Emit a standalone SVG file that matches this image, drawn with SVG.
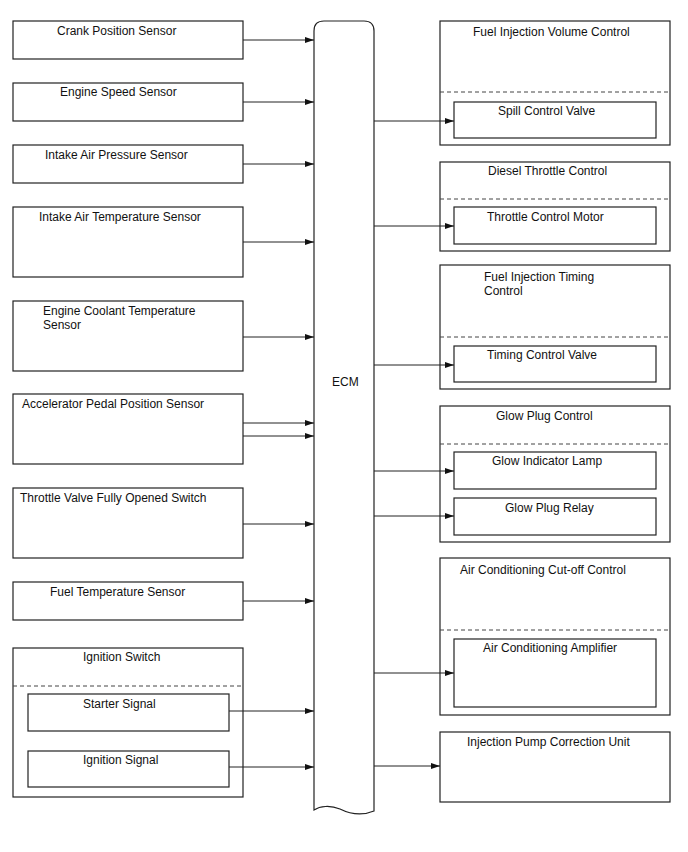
<svg xmlns="http://www.w3.org/2000/svg" width="688" height="852" viewBox="0 0 688 852">
<style>
.b{fill:#fff;stroke:#222;stroke-width:1.2}
.d{stroke:#444;stroke-width:1;stroke-dasharray:4 3}
.c{stroke:#222;stroke-width:1;fill:none;marker-end:url(#ah)}
text{font-family:"Liberation Sans",Arial,sans-serif;font-size:12px;fill:#111}
</style>
<defs>
<marker id="ah" markerWidth="9" markerHeight="6" refX="9" refY="3" orient="auto" markerUnits="userSpaceOnUse">
<path d="M0,0 L9,3 L0,6 Z" fill="#111"/>
</marker>
</defs>
<rect width="688" height="852" fill="#fff"/>
<g id="crank"><rect class="b" x="13" y="21" width="230" height="38"/><text x="57" y="35">Crank Position Sensor</text></g>
<g id="engspeed"><rect class="b" x="13" y="83" width="230" height="38"/><text x="60" y="96">Engine Speed Sensor</text></g>
<g id="iap"><rect class="b" x="13" y="145" width="230" height="38"/><text x="45" y="159">Intake Air Pressure Sensor</text></g>
<g id="iat"><rect class="b" x="13" y="207" width="230" height="70"/><text x="39" y="221">Intake Air Temperature Sensor</text></g>
<g id="ect"><rect class="b" x="13" y="301" width="230" height="70"/><text x="43" y="315">Engine Coolant Temperature</text><text x="43" y="329">Sensor</text></g>
<g id="app"><rect class="b" x="13" y="394" width="230" height="70"/><text x="22" y="408">Accelerator Pedal Position Sensor</text></g>
<g id="tvfo"><rect class="b" x="13" y="488" width="230" height="70"/><text x="20" y="502">Throttle Valve Fully Opened Switch</text></g>
<g id="fts"><rect class="b" x="13" y="582" width="230" height="38"/><text x="50" y="596">Fuel Temperature Sensor</text></g>
<g id="ign"><rect class="b" x="13" y="648" width="230" height="149"/><text x="83" y="661">Ignition Switch</text><line class="d" x1="13" y1="686" x2="243" y2="686"/>
<g id="starter"><rect class="b" x="28" y="694" width="201" height="37"/><text x="83" y="708">Starter Signal</text></g>
<g id="ignsig"><rect class="b" x="28" y="751" width="201" height="36"/><text x="83" y="764">Ignition Signal</text></g></g>
<g id="ecm"><path class="b" d="M314,810 L314,31 Q314,21 324,21 L364,21 Q374,21 374,31 L374,811 C362,816 350,814 340,809 C330,805 320,806 314,810 Z"/><text x="332" y="386">ECM</text></g>
<g id="fivc"><rect class="b" x="440" y="21" width="230" height="124"/><text x="473" y="36">Fuel Injection Volume Control</text><line class="d" x1="440" y1="92" x2="670" y2="92"/>
<g id="scv"><rect class="b" x="454" y="102" width="202" height="36"/><text x="498" y="115">Spill Control Valve</text></g></g>
<g id="dtc"><rect class="b" x="440" y="162" width="230" height="89"/><text x="488" y="175">Diesel Throttle Control</text><line class="d" x1="440" y1="199" x2="670" y2="199"/>
<g id="tcm"><rect class="b" x="454" y="207" width="202" height="37"/><text x="487" y="221">Throttle Control Motor</text></g></g>
<g id="fitc"><rect class="b" x="440" y="265" width="230" height="124"/><text x="484" y="281">Fuel Injection Timing</text><text x="484" y="295">Control</text><line class="d" x1="440" y1="337" x2="670" y2="337"/>
<g id="tcv"><rect class="b" x="454" y="346" width="202" height="36"/><text x="487" y="359">Timing Control Valve</text></g></g>
<g id="gpc"><rect class="b" x="440" y="406" width="230" height="136"/><text x="496" y="420">Glow Plug Control</text><line class="d" x1="440" y1="444" x2="670" y2="444"/>
<g id="gil"><rect class="b" x="454" y="452" width="202" height="37"/><text x="492" y="465">Glow Indicator Lamp</text></g>
<g id="gpr"><rect class="b" x="454" y="498" width="202" height="37"/><text x="505" y="512">Glow Plug Relay</text></g></g>
<g id="accc"><rect class="b" x="440" y="558" width="230" height="157"/><text x="460" y="574">Air Conditioning Cut-off Control</text><line class="d" x1="440" y1="630" x2="670" y2="630"/>
<g id="aca"><rect class="b" x="454" y="639" width="202" height="68"/><text x="483" y="652">Air Conditioning Amplifier</text></g></g>
<g id="ipcu"><rect class="b" x="440" y="732" width="230" height="70"/><text x="467" y="746">Injection Pump Correction Unit</text></g>
<g id="connectors">
<line class="c" x1="243" y1="40" x2="314" y2="40"/>
<line class="c" x1="243" y1="102" x2="314" y2="102"/>
<line class="c" x1="243" y1="164" x2="314" y2="164"/>
<line class="c" x1="243" y1="242" x2="314" y2="242"/>
<line class="c" x1="243" y1="337" x2="314" y2="337"/>
<line class="c" x1="243" y1="423" x2="314" y2="423"/>
<line class="c" x1="243" y1="436" x2="314" y2="436"/>
<line class="c" x1="243" y1="524" x2="314" y2="524"/>
<line class="c" x1="243" y1="601" x2="314" y2="601"/>
<line class="c" x1="229" y1="711" x2="314" y2="711"/>
<line class="c" x1="229" y1="767" x2="314" y2="767"/>
<line class="c" x1="374" y1="121" x2="454" y2="121"/>
<line class="c" x1="374" y1="226" x2="454" y2="226"/>
<line class="c" x1="374" y1="365" x2="454" y2="365"/>
<line class="c" x1="374" y1="471" x2="454" y2="471"/>
<line class="c" x1="374" y1="516" x2="454" y2="516"/>
<line class="c" x1="374" y1="673" x2="454" y2="673"/>
<line class="c" x1="374" y1="766" x2="440" y2="766"/>
</g>
</svg>
